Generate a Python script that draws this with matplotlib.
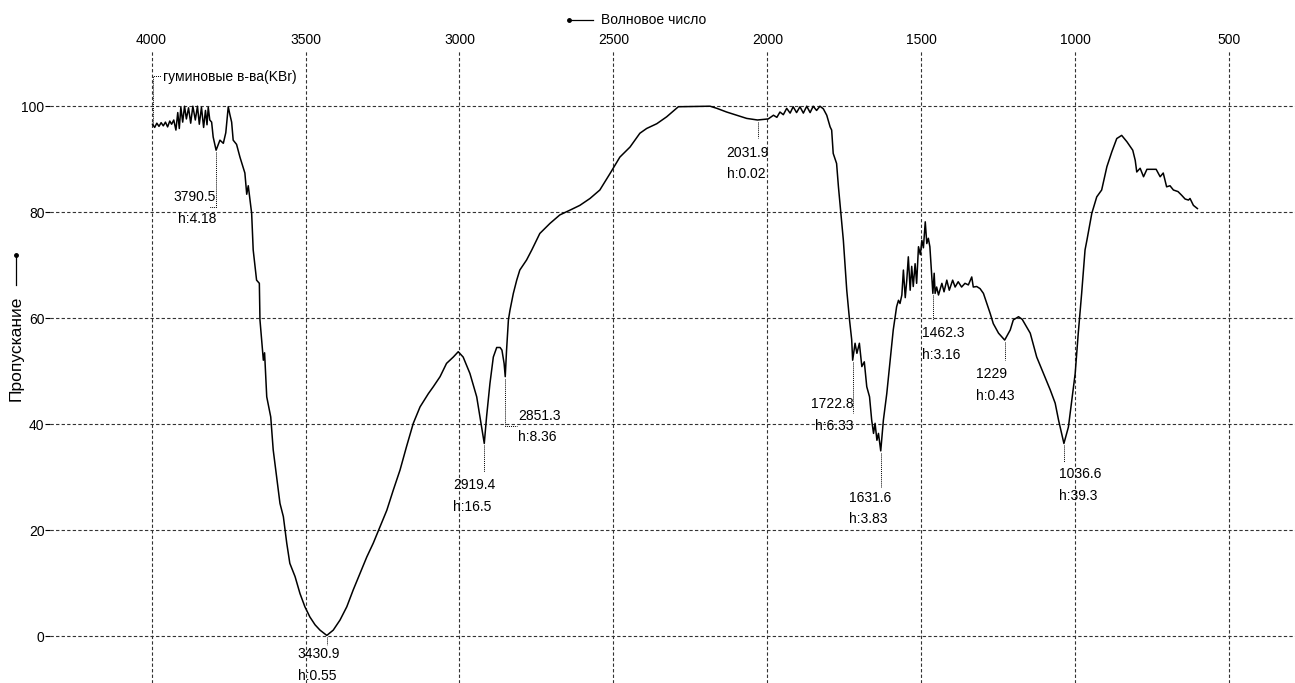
import numpy as np
import matplotlib.pyplot as plt
import matplotlib.transforms as mtransforms
from matplotlib.lines import Line2D

plt.rcParams['font.family'] = ['Liberation Sans', 'DejaVu Sans']

# ------------------------------------------------------------------
# Spectrum data
# ------------------------------------------------------------------

wavenumber = [
    3997, 3990, 3983, 3976, 3969, 3962, 3955, 3948, 3941, 3935,
    3928, 3921, 3915, 3910, 3905, 3899, 3893, 3887, 3880, 3873,
    3866, 3858, 3851, 3845, 3838, 3831, 3825, 3820, 3816, 3811,
    3805, 3800, 3790.5, 3778, 3767, 3759, 3751, 3746, 3740, 3735,
    3724, 3713, 3703, 3697, 3691, 3686, 3675, 3670, 3659, 3650,
    3648, 3637, 3633, 3626, 3613, 3605, 3594, 3583, 3572, 3561,
    3551, 3534, 3518, 3502, 3486, 3469, 3453, 3430.9, 3410, 3388,
    3366, 3345, 3323, 3301, 3280, 3258, 3236, 3215, 3193, 3172,
    3150, 3128, 3101, 3085, 3063, 3042, 3020, 3004, 2988, 2966,
    2944, 2928, 2919.4, 2912, 2901, 2890, 2879, 2868, 2862, 2855,
    2851.3, 2847, 2841, 2836, 2825, 2814, 2804, 2782, 2765, 2739,
    2706, 2674, 2641, 2609, 2576, 2544, 2511, 2479, 2446, 2414,
    2392, 2359, 2327, 2289, 2186, 2164, 2132, 2099, 2067, 2031.9,
    1997, 1980, 1969, 1959, 1948, 1937, 1926, 1916, 1905, 1894,
    1883, 1872, 1861, 1851, 1840, 1829, 1818, 1807, 1796, 1791,
    1786, 1775, 1769, 1762, 1753, 1742, 1733, 1726, 1722.8, 1715,
    1709, 1701, 1693, 1685, 1677, 1668, 1661, 1655, 1650, 1644,
    1639, 1631.6, 1628, 1623, 1612, 1601, 1591, 1580, 1574, 1569,
    1563, 1558, 1552, 1547, 1542, 1536, 1531, 1526, 1520, 1515,
    1509, 1503, 1498, 1493, 1487, 1482, 1477, 1472, 1462.3, 1458,
    1455, 1450, 1444, 1433, 1426, 1417, 1409, 1398, 1390, 1380,
    1369, 1358, 1347, 1336, 1331, 1320, 1309, 1298, 1287, 1276,
    1266, 1249, 1229, 1211, 1201, 1184, 1172, 1146, 1125, 1103,
    1081, 1065, 1054, 1036.6, 1022, 1011, 1000, 990, 979, 968,
    962, 946, 930, 914, 897, 881, 865, 849, 832, 813,
    805, 800, 789, 778, 767, 737, 724, 714, 703, 692,
    681, 666, 654, 643, 632, 627, 616, 603,
]

transmittance = [
    96.6, 96.0, 96.8, 96.2, 96.9, 96.3, 97.0, 96.1, 97.2, 96.6,
    97.4, 95.5, 98.8, 95.8, 99.8, 97.0, 100.0, 97.6, 99.7, 96.8,
    100.0, 97.4, 100.0, 96.6, 99.8, 96.0, 99.2, 96.5, 99.8, 97.4,
    97.0, 94.2, 91.7, 93.6, 93.0, 95.0, 99.9, 98.5, 97.0, 93.6,
    92.8, 90.4, 88.5, 87.4, 83.4, 85.0, 79.8, 72.9, 67.2, 66.6,
    59.7, 52.1, 53.5, 45.2, 41.4, 35.2, 30.1, 25.1, 22.6, 17.6,
    13.8, 11.3, 8.1, 5.6, 3.7, 2.2, 1.2, 0.2, 1.2, 3.1,
    5.6, 8.8, 11.9, 15.0, 17.6, 20.7, 23.8, 27.6, 31.4, 35.8,
    40.2, 43.3, 45.8, 47.1, 49.0, 51.5, 52.7, 53.7, 52.7, 49.6,
    45.2, 39.5, 36.4, 41.4, 47.7, 52.7, 54.5, 54.5, 54.0, 51.5,
    49.0, 54.0, 59.7, 61.5, 64.7, 67.2, 69.1, 71.0, 72.9, 76.0,
    77.9, 79.5, 80.4, 81.3, 82.6, 84.2, 87.3, 90.4, 92.3, 94.9,
    95.8, 96.7, 98.0, 99.9, 100.0, 99.6, 98.9, 98.3, 97.7, 97.4,
    97.6, 98.3, 97.9, 98.9, 98.4, 99.6, 98.7, 99.9, 98.8, 99.9,
    98.7, 100.0, 98.8, 100.0, 99.2, 100.0, 99.5, 98.3, 96.1, 95.5,
    91.1, 89.2, 84.8, 80.4, 74.7, 65.3, 59.7, 56.0, 52.1, 55.3,
    53.4, 55.3, 50.9, 51.8, 47.1, 45.2, 40.8, 38.3, 40.2, 37.0,
    38.3, 35.0, 37.5, 40.8, 45.8, 52.1, 57.8, 62.2, 63.4, 62.8,
    64.4, 69.1, 63.9, 67.2, 71.6, 65.3, 69.8, 66.0, 70.3, 66.6,
    73.5, 72.0, 74.7, 73.3, 78.2, 74.1, 75.1, 73.5, 64.7, 68.5,
    64.7, 65.9, 64.4, 66.6, 65.0, 67.2, 65.3, 67.2, 65.9, 66.9,
    65.9, 66.6, 66.3, 67.8, 65.9, 66.0, 65.6, 64.7, 62.8, 60.9,
    59.0, 57.2, 55.9, 57.8, 59.7, 60.3, 59.8, 57.2, 52.7, 49.6,
    46.5, 44.0, 40.8, 36.4, 39.5, 44.6, 49.6, 57.2, 64.7, 72.9,
    74.7, 79.8, 82.9, 84.2, 88.6, 91.4, 93.9, 94.5, 93.3, 91.7,
    89.8, 87.6, 88.3, 86.7, 88.1, 88.1, 86.7, 87.4, 84.8, 85.0,
    84.2, 83.9, 83.2, 82.5, 82.3, 82.6, 81.3, 80.7,
]

# marked peaks: position and "h" value
peak_wn = [3790.5, 3430.9, 2919.4, 2851.3, 2031.9, 1722.8, 1631.6, 1462.3, 1229, 1036.6]
peak_h = ["4.18", "0.55", "16.5", "8.36", "0.02", "6.33", "3.83", "3.16", "0.43", "39.3"]

x_ticks = [4000, 3500, 3000, 2500, 2000, 1500, 1000, 500]
y_ticks = [0, 20, 40, 60, 80, 100]

sample_name = "гуминовые в-ва(KBr)"
x_title = "Волновое число"
y_title = "Пропускание"

# leader layout in pixels: line length, tail dx, text ha, text dx, first line dy
label_layout = [
    (57, -7, "right", 0, 47),
    (10, 0, "left", -29, 19),
    (29, 0, "left", -31, 42),
    (49, 12, "left", 13, 39),
    (18, 0, "left", -31, 33),
    (53, 0, "right", 1, 44),
    (36, 0, "left", -32, 47),
    (27, 0, "left", -11, 40),
    (20, 0, "left", -29, 34),
    (19, 0, "left", -5, 31),
]

# ------------------------------------------------------------------
# Figure
# ------------------------------------------------------------------

W, H = 1295, 683
FS = 10
fig = plt.figure(figsize=(W / 100, H / 100), dpi=100)
ax = fig.add_axes([50 / W, 0, 1 - 50 / W, 633 / H])

ax.plot(wavenumber, transmittance, color="black", lw=1.1, zorder=3)

ax.set_xlim(4330, 286)
ax.set_ylim(-8.77, 110.6)
ax.set_xticks(x_ticks)
ax.set_yticks(y_ticks)
ax.xaxis.tick_top()
ax.tick_params(axis="x", length=0, pad=2.5, labelsize=FS)
ax.tick_params(axis="y", length=3.5, width=0.8, pad=0.5, labelsize=FS)
for s in ax.spines.values():
    s.set_visible(False)
ax.grid(True, color="#333333", lw=0.8, linestyle=(0, (3, 2)))
ax.set_axisbelow(True)

# peak labels
wn_inc = np.array(wavenumber)[::-1]
t_inc = np.array(transmittance)[::-1]
dot = dict(color="black", lw=0.7, linestyle=(0, (1, 1)), clip_on=False)

for w, h, (L, tail, ha, dx, dy) in zip(peak_wn, peak_h, label_layout):
    t = np.interp(w, wn_inc, t_inc)
    off = mtransforms.ScaledTranslation(w, t, ax.transData)
    ax.add_line(Line2D([0, 0, tail], [-2, -L, -L], transform=off, **dot))
    ax.text(dx, -dy, f"{w:g}", transform=off, ha=ha, va="center", fontsize=FS)
    ax.text(dx, -dy - 21.5, f"h:{h}", transform=off, ha=ha, va="center", fontsize=FS)

# sample name on the curve start
off = mtransforms.ScaledTranslation(wavenumber[0], transmittance[0], ax.transData)
ax.add_line(Line2D([0, 0, 8], [0, 48, 48], transform=off, **dot))
ax.text(10, 47, sample_name, transform=off, ha="left", va="center", fontsize=FS)

# axis titles with direction marks
def fx(x):
    return x / W

def fy(y):
    return 1 - y / H

fig.add_artist(Line2D([fx(569), fx(593)], [fy(20), fy(20)], color="black", lw=0.9))
fig.add_artist(Line2D([fx(569)], [fy(20)], marker="o", ms=2.5, color="black"))
fig.text(fx(601), fy(20), x_title, ha="left", va="center", fontsize=FS)

fig.add_artist(Line2D([fx(16)], [fy(255)], marker="o", ms=2.5, color="black"))
fig.add_artist(Line2D([fx(16), fx(16)], [fy(255), fy(285)], color="black", lw=0.9))
fig.text(fx(16.5), fy(348), y_title, rotation=90, ha="center", va="center", fontsize=12.5)

fig.savefig("out.png", dpi=100)
